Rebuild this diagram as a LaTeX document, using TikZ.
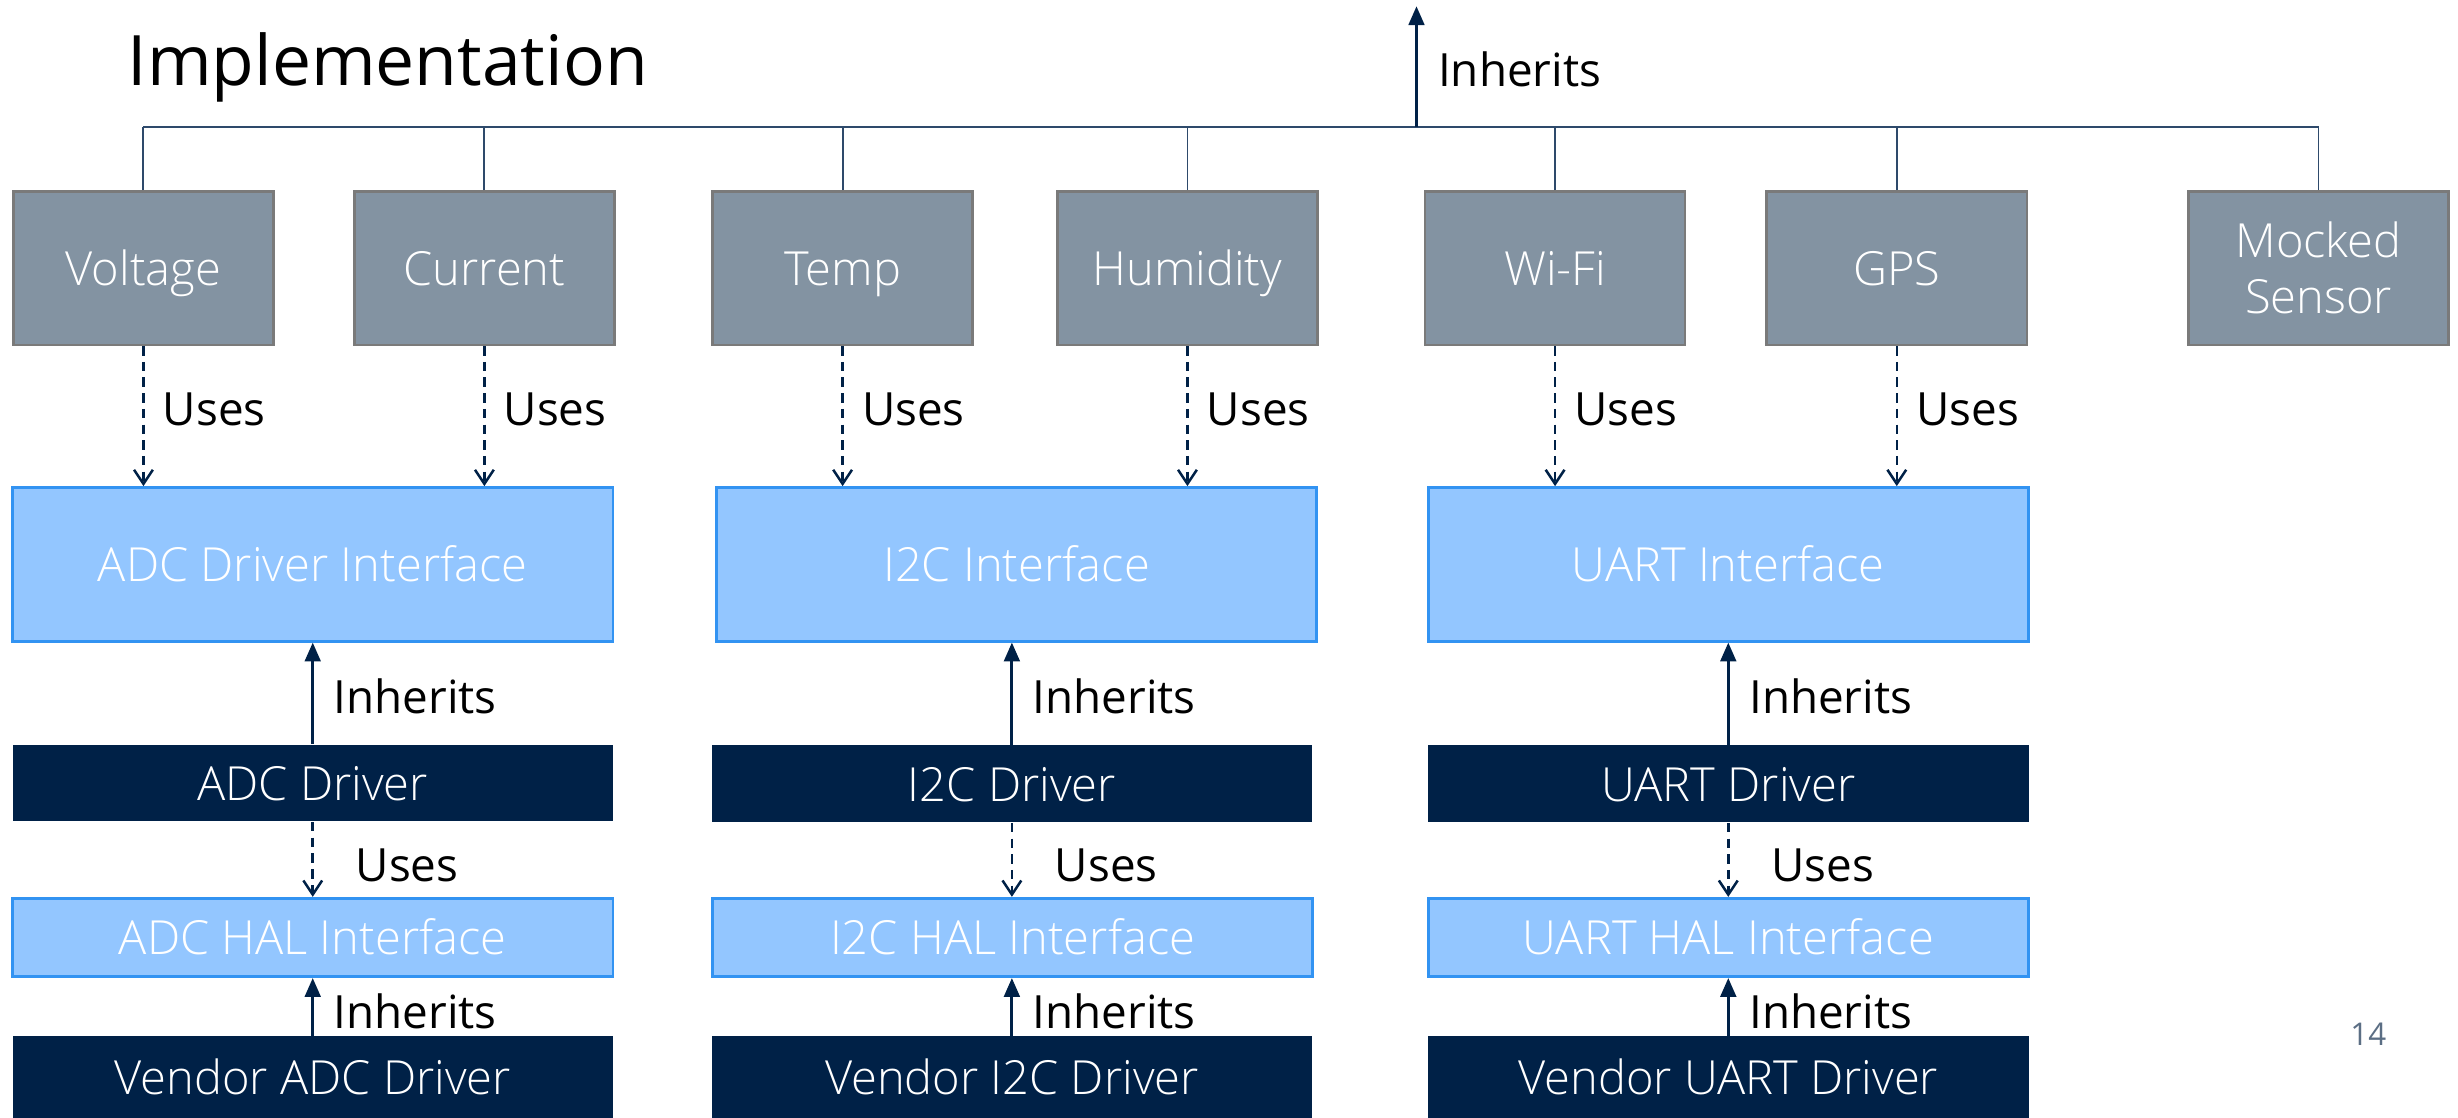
\documentclass[tikz,border=0pt]{standalone}
\usepackage{fontspec}
\setmainfont{Open Sans}
\newfontfamily\lightfont{Open Sans Light}
\usetikzlibrary{arrows.meta}
\definecolor{sensorgray}{HTML}{8393A2}
\definecolor{sensoredge}{HTML}{7A7A7A}
\definecolor{ifacefill}{HTML}{93C6FF}
\definecolor{ifaceedge}{HTML}{3293F2}
\definecolor{navy}{HTML}{002147}
\definecolor{busline}{HTML}{2E4A6B}
\definecolor{pagenum}{HTML}{5B6E84}
\tikzset{
  boxtext/.style={text=white, inner sep=0pt, align=center,
    font=\lightfont\fontsize{15}{18}\selectfont},
  oneline/.style={text height=12pt, text depth=1pt},
  sensorbase/.style={boxtext, fill=sensorgray, draw=sensoredge, line width=0.8pt,
    minimum width=83pt, minimum height=49pt},
  sensor/.style={sensorbase, oneline},
  iface/.style={boxtext, oneline, fill=ifacefill, draw=ifaceedge, line width=0.9pt,
    minimum width=191.5pt},
  drv/.style={boxtext, oneline, fill=navy, minimum width=191.5pt},
  inh/.style={draw=navy, line width=0.9pt, -{Triangle[length=6pt,width=5pt]}},
  uses/.style={draw=navy, line width=0.8pt, dash pattern=on 3pt off 2pt,
    -{Straight Barb[length=4.5pt,width=6pt]}},
  lbl/.style={anchor=west, inner sep=0pt, font=\fontsize{14.6}{18}\selectfont},
  bus/.style={draw=busline, line width=0.6pt}
}
\begin{document}
\begin{tikzpicture}[x=0.5pt,y=-0.5pt]
\useasboundingbox (0,0) rectangle (1568,713);

% title and page number
\node[anchor=west, inner sep=0pt, font=\fontsize{22.2}{27}\selectfont] (title) at (81,43) {Implementation};
\node[anchor=west, inner sep=0pt, text=pagenum, font=\fontsize{10}{12}\selectfont] (page) at (1499,660) {14};

% sensor row
\node[sensor] (volt)  at (91.5,171)  {Voltage};
\node[sensor] (curr)  at (309,171)   {Current};
\node[sensor] (temp)  at (537.5,171) {Temp};
\node[sensor] (humid) at (757.5,171) {Humidity};
\node[sensor] (wifi)  at (992,171)   {Wi-Fi};
\node[sensor] (gps)   at (1210,171)  {GPS};
\node[sensorbase] (mock)  at (1479,171)  {Mocked\\Sensor};

% driver interfaces
\node[iface, minimum height=49pt] (adcif)  at (199.5,360)  {ADC Driver Interface};
\node[iface, minimum height=49pt] (i2cif)  at (648.5,360)  {I2C Interface};
\node[iface, minimum height=49pt] (uartif) at (1102.5,360) {UART Interface};

% drivers
\node[drv, minimum height=24.5pt] (adcdrv)  at (199.5,499.5)  {ADC Driver};
\node[drv, minimum height=24.5pt] (i2cdrv)  at (645.5,500)    {I2C Driver};
\node[drv, minimum height=24.5pt] (uartdrv) at (1102.5,500)   {UART Driver};

% HAL interfaces
\node[iface, minimum height=25pt] (adchal)  at (199.5,598)  {ADC HAL Interface};
\node[iface, minimum height=25pt] (i2chal)  at (646,598)    {I2C HAL Interface};
\node[iface, minimum height=25pt] (uarthal) at (1102.5,598) {UART HAL Interface};

% vendor drivers (run past the lower edge)
\node[drv, minimum height=30pt] (adcven)  at (199.5,691)  {};
\node[drv, minimum height=30pt] (i2cven)  at (645.5,691)  {};
\node[drv, minimum height=30pt] (uartven) at (1102.5,691) {};
\node[boxtext, oneline] (adcvent)  at (199.5,687)  {Vendor ADC Driver};
\node[boxtext, oneline] (i2cvent)  at (645.5,687)  {Vendor I2C Driver};
\node[boxtext, oneline] (uartvent) at (1102.5,687) {Vendor UART Driver};

% common base: bus above the sensors
\coordinate (busL) at (91.5,81);
\coordinate (busR) at (1479,81);
\coordinate (busM) at (903.6,81);
\coordinate (busTop) at (903.6,4);
\draw[bus] (busL) -- (busR);
\foreach \s in {volt,curr,temp,humid,wifi,gps,mock}
  \draw[bus] (\s.north) -- (\s.north |- busL);
\draw[inh] (busM) -- (busTop);
\node[lbl] (inhtop) at (917,44) {Inherits};

% sensors use the driver interfaces
\foreach \s/\t in {volt/adcif,curr/adcif,temp/i2cif,humid/i2cif,wifi/uartif,gps/uartif}{
  \draw[uses] (\s.south) -- (\s.south |- \t.north);
  \node[lbl] at ([xshift=6pt]\s.south |- 0,261) {Uses};
}

% driver stacks
\foreach \i/\d/\h/\v in {adcif/adcdrv/adchal/adcven,i2cif/i2cdrv/i2chal/i2cven,uartif/uartdrv/uarthal/uartven}{
  \draw[inh] (\d.north) -- (\d.north |- \i.south);
  \node[lbl] at ([xshift=6.5pt]\d.north |- 0,444) {Inherits};
  \draw[uses] (\d.south) -- (\d.south |- \h.north);
  \node[lbl] at ([xshift=13.5pt]\d.south |- 0,552) {Uses};
  \draw[inh] (\v.north) -- (\v.north |- \h.south);
  \node[lbl] at ([xshift=6.5pt]\v.north |- 0,645) {Inherits};
}
\end{tikzpicture}
\end{document}
